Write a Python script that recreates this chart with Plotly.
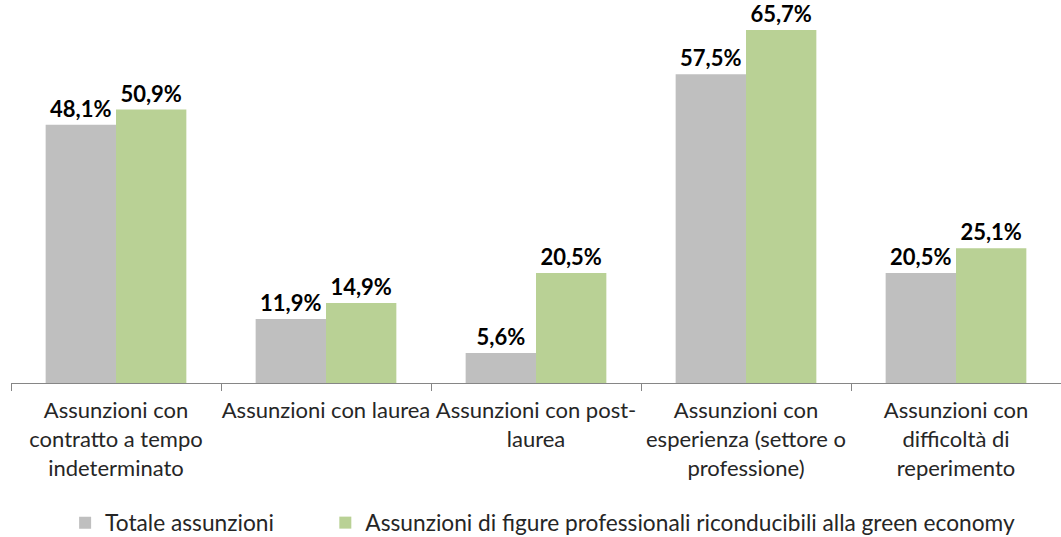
import plotly.graph_objects as go

categories = [
    "Assunzioni con<br>contratto a tempo<br>indeterminato",
    "Assunzioni con laurea",
    "Assunzioni con post-<br>laurea",
    "Assunzioni con<br>esperienza (settore o<br>professione)",
    "Assunzioni con<br>difficoltà di<br>reperimento",
]
totale = [48.1, 11.9, 5.6, 57.5, 20.5]
green = [50.9, 14.9, 20.5, 65.7, 25.1]
series_names = ["Totale assunzioni",
                "Assunzioni di figure professionali riconducibili alla green economy"]

def fmt(vals):
    return [f"{v:.1f}%".replace(".", ",") for v in vals]

FONT = "Lato, 'Open Sans', sans-serif"

fig = go.Figure()
fig.add_trace(go.Bar(x=categories, y=totale, name=series_names[0] + "        ",
                     marker=dict(color="#BFBFBF", line=dict(width=0)),
                     text=fmt(totale), textposition="outside", cliponaxis=False,
                     textfont=dict(family=FONT, size=22, color="#000000", weight="bold")))
fig.add_trace(go.Bar(x=categories, y=green, name=series_names[1],
                     marker=dict(color="#B9D195", line=dict(width=0)),
                     text=fmt(green), textposition="outside", cliponaxis=False,
                     textfont=dict(family=FONT, size=22, color="#000000", weight="bold")))

fig.update_layout(
    width=1061, height=537,
    paper_bgcolor="white", plot_bgcolor="white",
    margin=dict(l=11, r=0, t=7, b=154, autoexpand=False),
    barmode="group", bargap=0.33, bargroupgap=0,
    font=dict(family=FONT, size=22, color="#262626"),
    showlegend=True,
    legend=dict(orientation="h", x=0.5063, xanchor="center", y=-0.372, yanchor="middle",
                font=dict(family=FONT, size=22.7, color="#262626"),
                itemwidth=30),
    xaxis=dict(showline=True, linecolor="#868686", linewidth=1, automargin=False,
               ticks="outside", tickson="boundaries", ticklen=7, tickcolor="#868686",
               tickangle=0, ticklabelstandoff=8,
               tickfont=dict(family=FONT, size=22, color="#262626"),
               showgrid=False, fixedrange=True),
    yaxis=dict(range=[0, 70], visible=False, showgrid=False, automargin=False),
)
fig.update_traces(textangle=0)

fig.write_html("out.html", config={"displayModeBar": False},
               post_script="document.body.style.margin='0px';")
